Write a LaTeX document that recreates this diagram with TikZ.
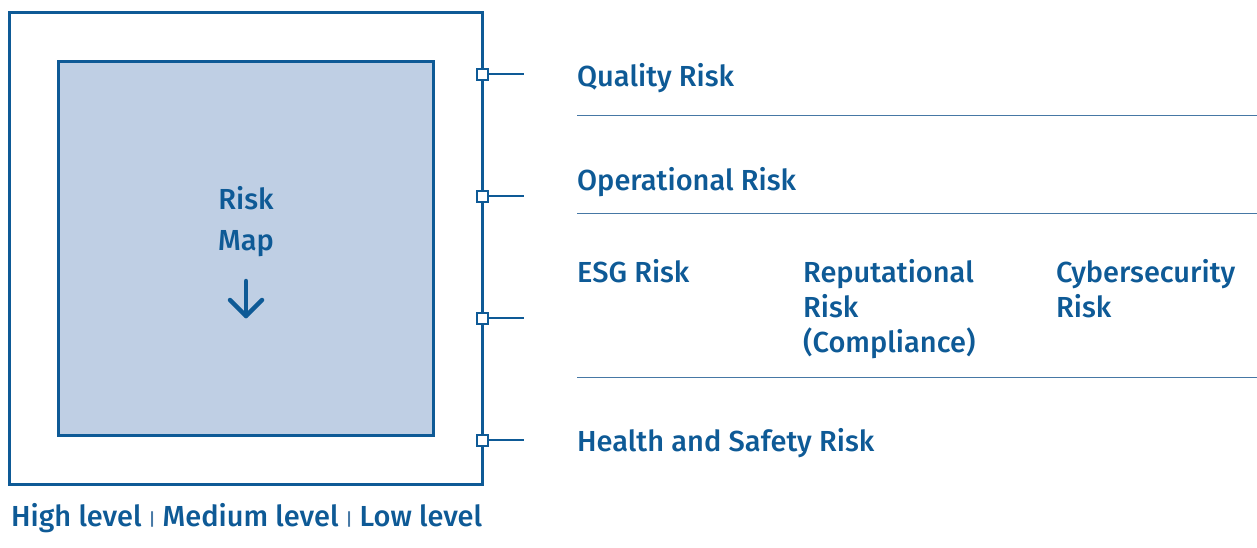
\documentclass[tikz,border=0pt]{standalone}
\usepackage{fontspec}
\setmainfont{Fira Sans}
\newfontfamily\medf{Fira Sans Medium}
\usetikzlibrary{calc}
\definecolor{rblue}{RGB}{14,90,150}
\definecolor{rfill}{RGB}{191,207,228}
\definecolor{rline}{RGB}{70,120,165}
\begin{document}
\begin{tikzpicture}[x=1pt,y=-1pt,
  lbl/.style={anchor=west,inner sep=0pt,text=rblue,font=\medf\fontsize{29}{35}\selectfont},
  connsq/.style={draw=rblue,line width=2pt,fill=white,minimum size=11pt,inner sep=0pt},
  conn/.style={draw=rblue,line width=2pt},
  sep/.style={draw=rline,line width=1pt}]
\useasboundingbox (0,0) rectangle (1257,547);
\node[draw=rblue,line width=3pt,minimum width=473pt,minimum height=472pt,inner sep=0pt] (outer) at (245.5,248) {};
\node[draw=rblue,line width=3pt,fill=rfill,minimum width=375pt,minimum height=374pt,inner sep=0pt] (inner) at (245.5,248) {};
\node[lbl,anchor=center,align=center,font=\medf\fontsize{29}{41}\selectfont] (map) at (246,222) {Risk\\Map};
\coordinate (atop) at (246,281);
\coordinate (abot) at (246,316);
\draw[rblue,line width=4.5pt,line cap=round,line join=round] (atop) -- (abot);
\draw[rblue,line width=4.5pt,line cap=round,line join=round] ($(abot)+(-16,-16)$) -- (abot) -- ($(abot)+(16,-16)$);
\foreach \y/\n in {74/a,196/b,318/c,440/d}{
  \node[connsq] (s\n) at (482,\y) {};
  \coordinate (e\n) at (524,\y);
  \draw[conn] (s\n.east) -- (e\n);
}
\node[lbl] (q) at (577,78) {Quality Risk};
\node[lbl] (o) at (577,182) {Operational Risk};
\node[lbl,anchor=north west,align=left] (esg) at (577,259) {ESG Risk};
\node[lbl,anchor=north west,align=left] (rep) at (803,259) {Reputational\\Risk\\(Compliance)};
\node[lbl,anchor=north west,align=left] (cyb) at (1056,259) {Cybersecurity\\Risk};
\node[lbl] (h) at (577,443) {Health and Safety Risk};
\foreach \y/\n in {115/1,213/2,377/3}{
  \coordinate (l\n) at (577,\y);
  \coordinate (r\n) at (1257,\y);
  \draw[sep] (l\n) -- (r\n);
}
\node[lbl] (lev) at (11,518) {High level {\color{rline}\raisebox{1pt}{\fontsize{17}{17}\selectfont|}} Medium level {\color{rline}\raisebox{1pt}{\fontsize{17}{17}\selectfont|}} Low level};
\end{tikzpicture}
\end{document}
